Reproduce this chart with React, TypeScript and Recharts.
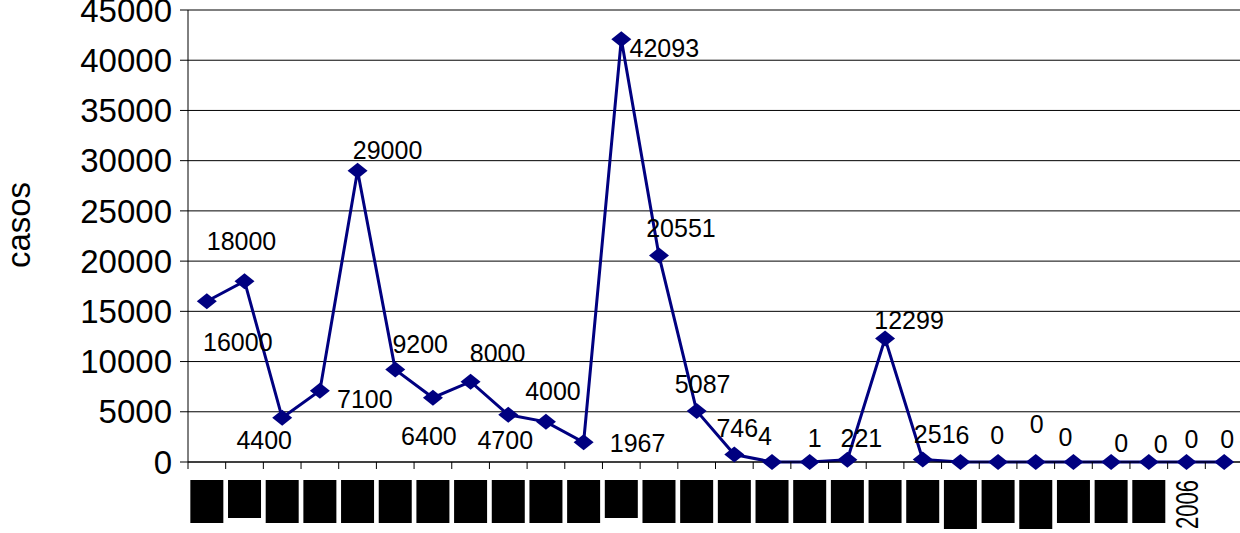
import { LineChart, Line, XAxis, YAxis, CartesianGrid, LabelList } from 'recharts'

// one point per period; the original x labels are blacked out except "2006"
const periods = [
  'p01', 'p02', 'p03', 'p04', 'p05', 'p06', 'p07', 'p08', 'p09', 'p10',
  'p11', 'p12', 'p13', 'p14', 'p15', 'p16', 'p17', 'p18', 'p19', 'p20',
  'p21', 'p22', 'p23', 'p24', 'p25', 'p26', 'p27', 'p28',
]
// null = label hidden under a black box in the source
const tickLabels: (string | null)[] = [
  null, null, null, null, null, null, null, null, null, null,
  null, null, null, null, null, null, null, null, null, null,
  null, null, null, null, null, null, '2006', '',
]
const casos = [
  16000, 18000, 4400, 7100, 29000, 9200, 6400, 8000, 4700, 4000,
  1967, 42093, 20551, 5087, 746, 4, 1, 221, 12299, 251,
  6, 0, 0, 0, 0, 0, 0, 0,
]
const yTicks = [0, 5000, 10000, 15000, 20000, 25000, 30000, 35000, 40000, 45000]

// styling only: where each data label sits relative to its marker
const labelOffsets = [
  [31, 41], [-3, -40], [-18, 22], [45, 8], [30, -21], [25, -26], [-4, 38], [27, -29],
  [-3, 25], [7, -31], [54, 1], [43, 9], [22, -28], [6, -27], [3, -27], [-7, -26],
  [5, -24], [14, -22], [24, -18], [12, -25], [2, -27], [-1, -27], [1, -38], [-8, -25],
  [10, -19], [12, -18], [5, -23], [3, -23],
]
// black box height per x label (s = short, m = normal, t = tall)
const boxKinds = 'msmmmmmmmmmsmmmmmmmmtmtmmm'.split('')
const boxHeights: Record<string, number> = { s: 38, m: 43, t: 49 }

const CHART_W = 1250
const CHART_H = 533
const MARGIN = { top: 10, right: 7, left: 0, bottom: 0 }
const Y_AXIS_W = 188
const X_AXIS_H = 71
const AXIS_Y = CHART_H - X_AXIS_H
const BAND = (CHART_W - MARGIN.right - Y_AXIS_W) / periods.length
const NAVY = '#000080'
const FONT = '"Liberation Sans", Arial, sans-serif'

const data = periods.map((p, i) => ({ period: p, casos: casos[i] }))

function Diamond({ cx, cy }: any) {
  if (cx == null || cy == null) return null
  return (
    <polygon
      points={`${cx},${cy - 8} ${cx + 10},${cy} ${cx},${cy + 8} ${cx - 10},${cy}`}
      fill={NAVY}
    />
  )
}

function XTick({ x, index }: any) {
  const left = x - BAND / 2
  const label = tickLabels[index]
  return (
    <g>
      <line x1={left} y1={AXIS_Y} x2={left} y2={AXIS_Y + 7} stroke="#000" />
      {index === periods.length - 1 && (
        <line x1={left + BAND} y1={AXIS_Y} x2={left + BAND} y2={AXIS_Y + 7} stroke="#000" />
      )}
      {label === null && (
        <rect x={x - 16.5} y={AXIS_Y + 18} width={33} height={boxHeights[boxKinds[index]]} fill="#000" />
      )}
      {label && (
        <text
          x={x + 12}
          y={AXIS_Y + 67}
          transform={`rotate(-90 ${x + 12} ${AXIS_Y + 67})`}
          fontSize={32}
          textLength={49}
          lengthAdjust="spacingAndGlyphs"
          fill="#000"
        >
          {label}
        </text>
      )}
    </g>
  )
}

function PointLabel({ x, y, value, index }: any) {
  const [dx, dy] = labelOffsets[index] || [0, -25]
  return (
    <text
      x={x + dx}
      y={y + dy}
      textAnchor="middle"
      dominantBaseline="central"
      fontSize={25}
      fill="#000"
    >
      {value}
    </text>
  )
}

export default function App() {
  return (
    <div
      style={{
        position: 'absolute',
        left: 0,
        top: 0,
        width: 1240,
        height: 533,
        overflow: 'hidden',
        background: '#fff',
        fontFamily: FONT,
      }}
    >
      <LineChart width={CHART_W} height={CHART_H} data={data} margin={MARGIN} style={{ fontFamily: FONT }}>
        <CartesianGrid horizontal vertical={false} stroke="#000" strokeWidth={1} />
        <XAxis
          dataKey="period"
          scale="band"
          interval={0}
          height={X_AXIS_H}
          axisLine={{ stroke: '#000' }}
          tickLine={false}
          tickSize={0}
          tickMargin={0}
          tick={<XTick />}
        />
        <YAxis
          width={Y_AXIS_W}
          domain={[0, 45000]}
          ticks={yTicks}
          interval={0}
          axisLine={{ stroke: '#000' }}
          tickLine={{ stroke: '#000' }}
          tickSize={8}
          tickMargin={8}
          tick={{ fontSize: 33, fill: '#000' }}
          label={{
            content: () => (
              <text
                x={30}
                y={225}
                transform="rotate(-90 30 225)"
                textAnchor="middle"
                fontSize={33}
                fill="#000"
              >
                casos
              </text>
            ),
          }}
        />
        <Line
          type="linear"
          dataKey="casos"
          stroke={NAVY}
          strokeWidth={3}
          dot={<Diamond />}
          activeDot={false}
          isAnimationActive={false}
        >
          <LabelList dataKey="casos" content={<PointLabel />} />
        </Line>
      </LineChart>
    </div>
  )
}
